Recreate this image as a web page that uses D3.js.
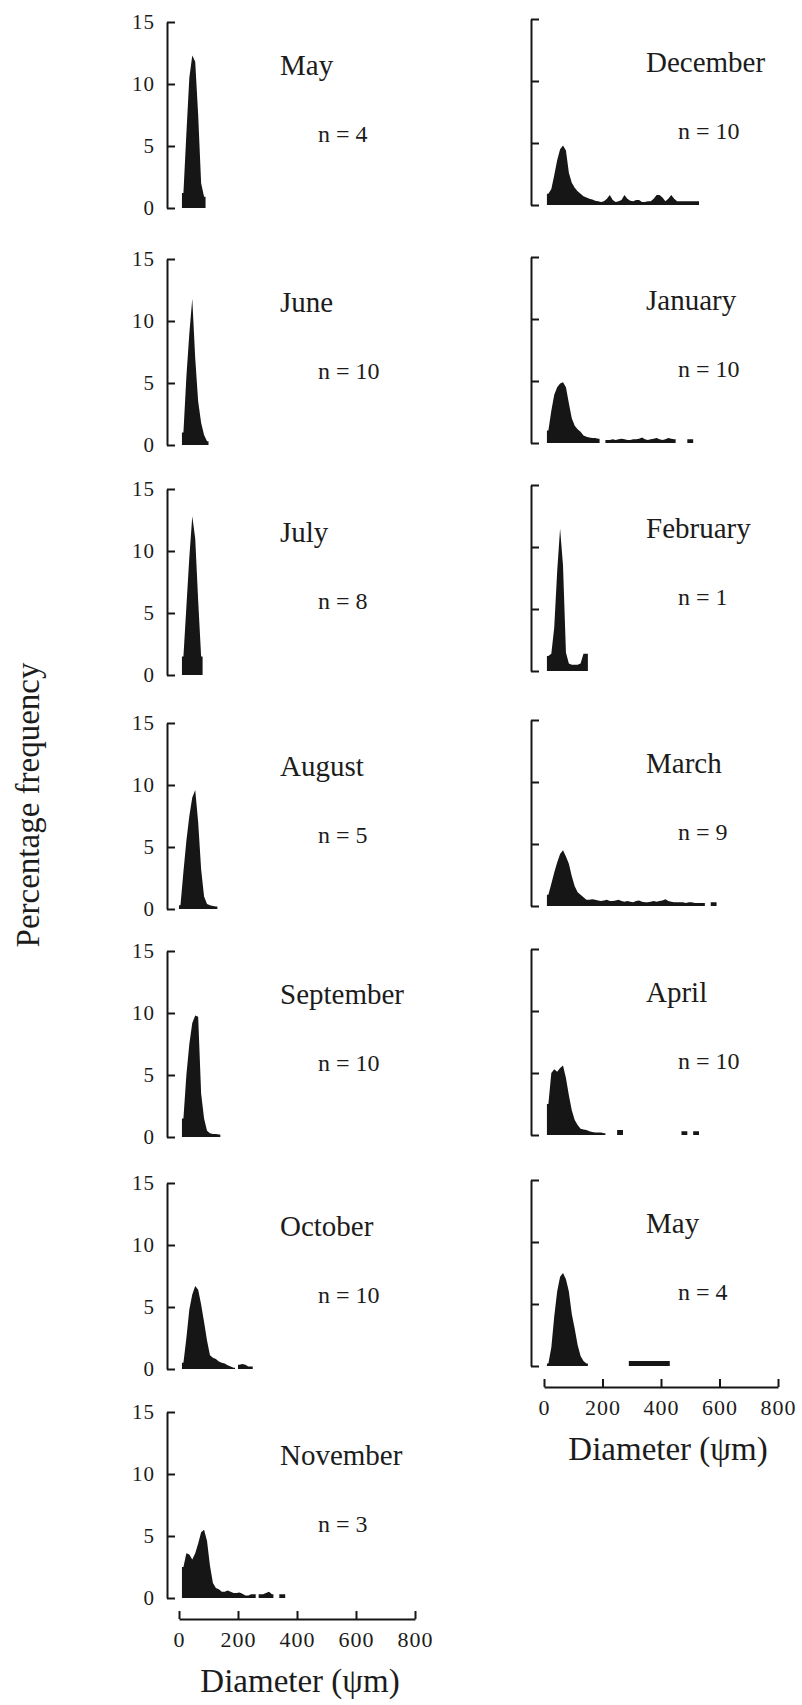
<!DOCTYPE html>
<html>
<head>
<meta charset="utf-8">
<script src="https://cdn.jsdelivr.net/npm/d3@7"></script>
<style>
  html, body { margin: 0; padding: 0; background: #ffffff; }
  svg { display: block; }
  text { font-family: "Liberation Serif", "Times New Roman", serif; fill: #1c1c1c; }
</style>
</head>
<body>
<svg id="chart" width="802" height="1705"></svg>
<script>
// Size-class width of every histogram bar, in micrometres
const binWidth = 10;

// Axis ticks
const yTicks = [0, 5, 10, 15];
const xTicks = [0, 200, 400, 600, 800];

// Panel titles and sample sizes
const leftMonths = ["May", "June", "July", "August", "September", "October", "November"];
const leftCounts = [4, 10, 8, 5, 10, 10, 3];
const rightMonths = ["December", "January", "February", "March", "April", "May"];
const rightCounts = [10, 10, 1, 9, 10, 4];

// Percentage frequency per 10 µm diameter class, starting at 0 µm
const mayFirst = [0, 1.2, 6.0, 10.5, 12.3, 11.8, 7.5, 2.0, 0.9];
const june = [0, 1.0, 5.5, 9.0, 11.8, 7.0, 3.5, 1.8, 0.8, 0.3];
const july = [0, 1.5, 5.5, 9.5, 12.8, 11.0, 6.0, 1.5];
const august = [0.3, 3.0, 5.5, 7.5, 9.0, 9.6, 7.0, 3.2, 1.0, 0.4, 0.3, 0.25, 0.2];
const september = [0, 1.5, 5.0, 7.5, 9.2, 9.8, 9.7, 3.5, 1.5, 0.5, 0.3, 0.25, 0.25, 0.2];
const october = [0, 0.5, 2.5, 4.8, 6.0, 6.7, 6.4, 5.2, 3.8, 2.3,
                 1.1, 0.9, 0.8, 0.6, 0.5, 0.45, 0.3, 0.2, 0.1, 0,
                 0.35, 0.4, 0.35, 0.2, 0.2];
const november = [0, 2.5, 3.6, 3.5, 3.1, 3.6, 4.4, 5.3, 5.5, 4.6,
                  2.6, 1.2, 0.8, 0.7, 0.5, 0.5, 0.6, 0.5, 0.4, 0.4,
                  0.45, 0.35, 0.2, 0.2, 0.3, 0.3, 0, 0.3, 0.3, 0.4,
                  0.5, 0.3, 0, 0, 0.3, 0.3];
const december = [0, 0.9, 1.3, 2.4, 3.6, 4.5, 4.8, 4.4, 2.6, 1.8,
                  1.4, 1.1, 0.9, 0.7, 0.6, 0.5, 0.45, 0.35, 0.3, 0.25,
                  0.3, 0.5, 0.8, 0.4, 0.25, 0.3, 0.4, 0.8, 0.5, 0.35,
                  0.3, 0.4, 0.4, 0.25, 0.25, 0.3, 0.3, 0.5, 0.8, 0.8,
                  0.6, 0.3, 0.5, 0.8, 0.5, 0.3, 0.3, 0.3, 0.3, 0.3,
                  0.3, 0.3, 0.3];
const january = [0, 1.0, 2.6, 3.9, 4.5, 4.8, 4.9, 4.5, 3.2, 2.0,
                 1.4, 1.1, 0.9, 0.6, 0.5, 0.45, 0.4, 0.4, 0.35, 0,
                 0, 0.25, 0.25, 0.3, 0.25, 0.3, 0.35, 0.3, 0.25, 0.25,
                 0.3, 0.3, 0.35, 0.45, 0.3, 0.25, 0.3, 0.35, 0.4, 0.3,
                 0.25, 0.3, 0.4, 0.35, 0.3, 0, 0, 0, 0, 0.3,
                 0.3];
const february = [0, 1.2, 1.4, 3.5, 8.0, 11.5, 8.5, 1.5, 0.6, 0.5,
                  0.5, 0.5, 0.6, 1.4, 1.4];
const march = [0, 0.9, 1.8, 2.7, 3.5, 4.2, 4.5, 4.0, 3.4, 2.4,
               1.6, 1.1, 0.9, 0.7, 0.5, 0.5, 0.55, 0.5, 0.45, 0.4,
               0.45, 0.5, 0.4, 0.4, 0.45, 0.5, 0.4, 0.35, 0.4, 0.35,
               0.3, 0.4, 0.45, 0.35, 0.3, 0.3, 0.35, 0.4, 0.35, 0.4,
               0.45, 0.55, 0.4, 0.35, 0.3, 0.3, 0.3, 0.3, 0.25, 0.3,
               0.3, 0.25, 0.25, 0.25, 0.25, 0, 0, 0.3, 0.3];
const april = [0, 2.5, 5.0, 5.3, 5.1, 5.4, 5.6, 4.6, 3.2, 2.0,
               1.2, 0.8, 0.5, 0.45, 0.4, 0.3, 0.25, 0.2, 0.2, 0.2,
               0.15, 0, 0, 0, 0, 0.4, 0.4, 0, 0, 0,
               0, 0, 0, 0, 0, 0, 0, 0, 0, 0,
               0, 0, 0, 0, 0, 0, 0, 0.3, 0.3, 0,
               0, 0.3, 0.3];
const maySecond = [0, 0.2, 1.5, 4.0, 6.0, 7.2, 7.5, 7.0, 6.0, 4.2,
                   3.0, 1.7, 0.8, 0.4, 0.2, 0, 0, 0, 0, 0,
                   0, 0, 0, 0, 0, 0, 0, 0, 0, 0.4,
                   0.4, 0.4, 0.4, 0.4, 0.4, 0.4, 0.4, 0.4, 0.4, 0.4,
                   0.4, 0.4, 0.4];

const leftSeries = [mayFirst, june, july, august, september, october, november];
const rightSeries = [december, january, february, march, april, maySecond];

// ---- layout ----
const serif = '"Liberation Serif", "Times New Roman", serif';
const ink = "#161616";
const panelH = 186;

const columns = [
  { months: leftMonths, counts: leftCounts, series: leftSeries,
    axisX: 167, xRange: [179, 415],
    zeros: [208, 445, 675, 909, 1137, 1369, 1598],
    monthX: 280, countX: 318, tickLabels: true, titleX: 300 },
  { months: rightMonths, counts: rightCounts, series: rightSeries,
    axisX: 531, xRange: [544, 778],
    zeros: [205, 443, 671, 906, 1135, 1366],
    monthX: 646, countX: 678, tickLabels: false, titleX: 668 }
];

const svg = d3.select("#chart");

// Outline of a frequency histogram: each unbroken run of occupied classes
// becomes one polygon through the class mid-points, closed by vertical
// edges at the outer class limits. Empty classes leave gaps.
function silhouette(values) {
  const pts = [];
  values.forEach((v, k) => {
    if (v <= 0) return;
    const prev = k > 0 ? values[k - 1] : 0;
    const next = k < values.length - 1 ? values[k + 1] : 0;
    if (prev <= 0) pts.push([k * binWidth, v]);
    pts.push([(k + 0.5) * binWidth, v]);
    if (next <= 0) { pts.push([(k + 1) * binWidth, v]); pts.push(null); }
  });
  return pts;
}

function styleAxis(g, size) {
  g.attr("font-family", serif).attr("font-size", size);
  g.select(".domain").attr("stroke", ink).attr("stroke-width", 2);
  g.selectAll(".tick line").attr("stroke", ink).attr("stroke-width", 2);
  g.selectAll(".tick text").attr("fill", "#1c1c1c").style("letter-spacing", "1px");
}

columns.forEach(col => {
  const x = d3.scaleLinear().domain([0, 800]).range(col.xRange);

  col.series.forEach((values, i) => {
    const zero = col.zeros[i];
    const y = d3.scaleLinear().domain([0, 15]).range([zero, zero - panelH]);
    const g = svg.append("g");

    const area = d3.area()
      .defined(d => d !== null)
      .x(d => x(d[0]))
      .y0(y(0))
      .y1(d => y(d[1]));
    g.append("path").attr("d", area(silhouette(values))).attr("fill", ink);

    // y axis with inward ticks
    const yAxis = d3.axisLeft(y)
      .tickValues(yTicks)
      .tickSizeInner(-8)
      .tickSizeOuter(0)
      .tickPadding(12);
    if (!col.tickLabels) yAxis.tickFormat(() => "");
    g.append("g")
      .attr("transform", `translate(${col.axisX},0)`)
      .call(yAxis)
      .call(a => styleAxis(a, 21));

    // month and sample size
    g.append("text")
      .attr("x", col.monthX).attr("y", zero - 133)
      .attr("font-size", 29)
      .text(col.months[i]);
    g.append("text")
      .attr("x", col.countX).attr("y", zero - 66)
      .attr("font-size", 24)
      .attr("xml:space", "preserve")
      .text("n = " + col.counts[i]);

    // diameter axis under the last panel of the column
    if (i === col.series.length - 1) {
      const xAxis = d3.axisBottom(x)
        .tickValues(xTicks)
        .tickSizeInner(-8)
        .tickSizeOuter(0)
        .tickPadding(12);
      g.append("g")
        .attr("transform", `translate(0,${zero + 21})`)
        .call(xAxis)
        .call(a => styleAxis(a, 22));
      g.append("text")
        .attr("x", col.titleX).attr("y", zero + 94)
        .attr("text-anchor", "middle")
        .attr("font-size", 33)
        .text("Diameter (ψm)");
    }
  });
});

// shared y-axis title
svg.append("text")
  .attr("transform", "translate(39,805) rotate(-90)")
  .attr("text-anchor", "middle")
  .attr("font-size", 33)
  .text("Percentage frequency");
</script>
</body>
</html>
